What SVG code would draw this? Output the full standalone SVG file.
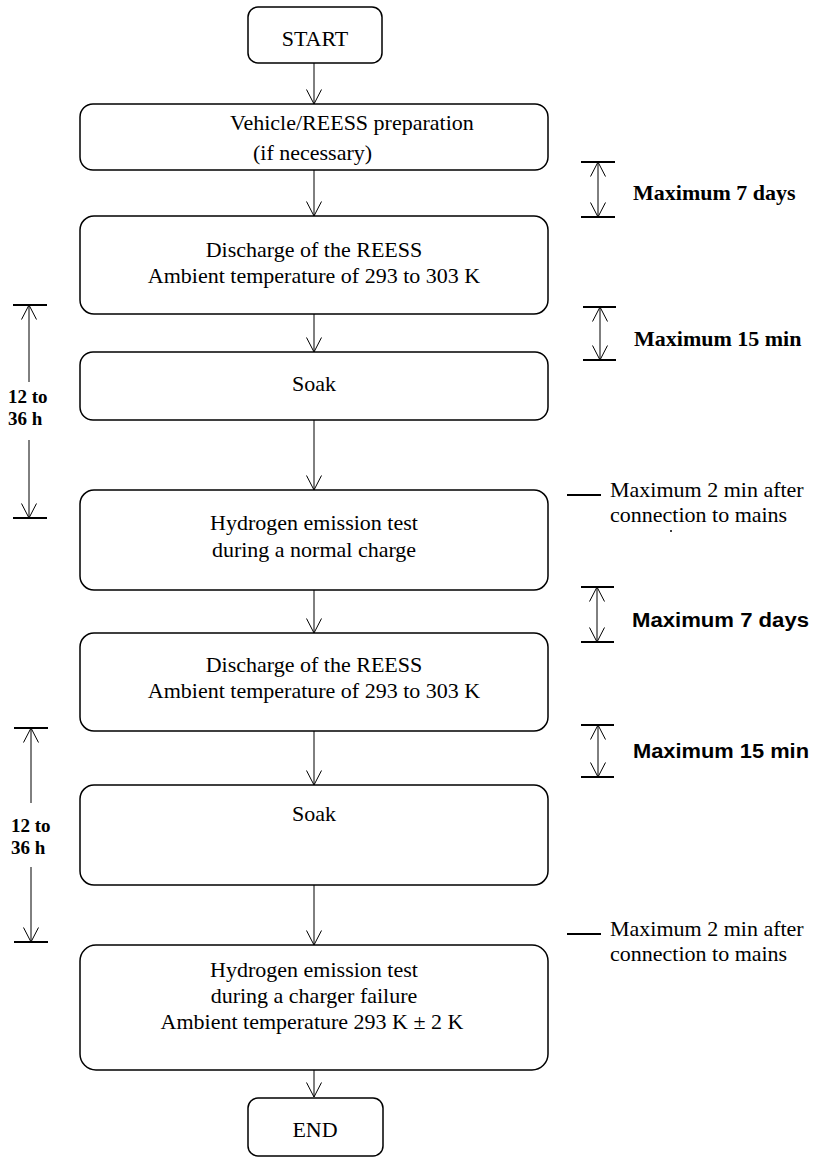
<svg xmlns="http://www.w3.org/2000/svg" width="817" height="1159" viewBox="0 0 817 1159">
<style>
.box{fill:#fff;stroke:#000;stroke-width:1.5}
.t{font-family:"Liberation Serif","Times New Roman",serif;font-size:22px;fill:#000}
.c{text-anchor:middle}
.b{font-family:"Liberation Serif","Times New Roman",serif;font-size:22px;font-weight:bold;fill:#000}
.s{font-family:"Liberation Sans",Arial,sans-serif;font-size:20px;font-weight:bold;fill:#000}
.h{font-family:"Liberation Serif","Times New Roman",serif;font-size:19px;font-weight:bold;fill:#000}
.ln{stroke:#000;stroke-width:1;fill:none}
.tk{stroke:#000;stroke-width:2}
</style>
<defs>
<marker id="ah" viewBox="0 0 16 16" refX="15" refY="8" markerWidth="16" markerHeight="16" markerUnits="userSpaceOnUse" orient="auto-start-reverse">
<path d="M0.5,0.5 L15,8 L0.5,15.5" fill="none" stroke="#000" stroke-width="1"/>
</marker>
</defs>
<rect width="817" height="1159" fill="#fff"/>

<g id="connectors">
<line class="ln" x1="314" y1="63" x2="314" y2="104" marker-end="url(#ah)"/>
<line class="ln" x1="314" y1="166" x2="314" y2="216" marker-end="url(#ah)"/>
<line class="ln" x1="314" y1="310" x2="314" y2="352" marker-end="url(#ah)"/>
<line class="ln" x1="314" y1="416" x2="314" y2="490" marker-end="url(#ah)"/>
<line class="ln" x1="314" y1="585" x2="314" y2="633" marker-end="url(#ah)"/>
<line class="ln" x1="314" y1="727" x2="314" y2="785" marker-end="url(#ah)"/>
<line class="ln" x1="314" y1="881" x2="314" y2="945" marker-end="url(#ah)"/>
<line class="ln" x1="314" y1="1066" x2="314" y2="1097" marker-end="url(#ah)"/>
</g>

<g id="start">
<rect class="box" x="248" y="7" width="134" height="56" rx="10"/>
<text class="t c" x="315" y="46">START</text>
</g>

<g id="prep">
<rect class="box" x="80" y="104" width="468" height="66" rx="13"/>
<text class="t" x="230" y="130">Vehicle/REESS preparation</text>
<text class="t" x="253" y="160">(if necessary)</text>
</g>

<g id="discharge1">
<rect class="box" x="80" y="216" width="468" height="98" rx="14"/>
<text class="t c" x="314" y="257">Discharge of the REESS</text>
<text class="t c" x="314" y="283">Ambient temperature of 293 to 303 K</text>
</g>

<g id="soak1">
<rect class="box" x="80" y="352" width="468" height="68" rx="13"/>
<text class="t c" x="314" y="391">Soak</text>
</g>

<g id="hydrogen1">
<rect class="box" x="80" y="490" width="468" height="100" rx="14"/>
<text class="t c" x="314" y="530">Hydrogen emission test</text>
<text class="t c" x="314" y="557">during a normal charge</text>
</g>

<g id="discharge2">
<rect class="box" x="80" y="633" width="468" height="98" rx="14"/>
<text class="t c" x="314" y="672">Discharge of the REESS</text>
<text class="t c" x="314" y="698">Ambient temperature of 293 to 303 K</text>
</g>

<g id="soak2">
<rect class="box" x="80" y="785" width="468" height="100" rx="14"/>
<text class="t c" x="314" y="821">Soak</text>
</g>

<g id="hydrogen2">
<rect class="box" x="80" y="945" width="468" height="125" rx="16"/>
<text class="t c" x="314" y="977">Hydrogen emission test</text>
<text class="t c" x="314" y="1003">during a charger failure</text>
<text class="t c" x="312" y="1029">Ambient temperature 293 K ± 2 K</text>
</g>

<g id="end">
<rect class="box" x="248" y="1098" width="135" height="58" rx="10"/>
<text class="t c" x="315" y="1137">END</text>
</g>

<g id="bracket-7days-1">
<line class="tk" x1="581" y1="162" x2="615" y2="162"/>
<line class="tk" x1="581" y1="217" x2="615" y2="217"/>
<line class="ln" x1="598" y1="162" x2="598" y2="217" marker-start="url(#ah)" marker-end="url(#ah)"/>
<text class="b" x="633" y="200">Maximum 7 days</text>
</g>

<g id="bracket-15min-1">
<line class="tk" x1="583" y1="307" x2="616" y2="307"/>
<line class="tk" x1="583" y1="360" x2="616" y2="360"/>
<line class="ln" x1="600" y1="307" x2="600" y2="360" marker-start="url(#ah)" marker-end="url(#ah)"/>
<text class="b" x="634" y="346">Maximum 15 min</text>
</g>

<g id="bracket-12-36h-1">
<line class="tk" x1="13" y1="305" x2="47" y2="305"/>
<line class="tk" x1="13" y1="518" x2="47" y2="518"/>
<line class="ln" x1="29" y1="382" x2="29" y2="305" marker-end="url(#ah)"/>
<line class="ln" x1="29" y1="440" x2="29" y2="518" marker-end="url(#ah)"/>
<text class="h" x="8" y="403">12 to</text>
<text class="h" x="8" y="425">36 h</text>
</g>

<g id="note-2min-1">
<line class="tk" x1="567" y1="495" x2="601" y2="495"/>
<text class="t" x="610" y="497">Maximum 2 min after</text>
<text class="t" x="610" y="522">connection to mains</text>
<circle cx="671" cy="531" r="1" fill="#000"/>
</g>

<g id="bracket-7days-2">
<line class="tk" x1="581" y1="587" x2="614" y2="587"/>
<line class="tk" x1="581" y1="642" x2="614" y2="642"/>
<line class="ln" x1="597" y1="587" x2="597" y2="642" marker-start="url(#ah)" marker-end="url(#ah)"/>
<text class="s" x="632" y="627" textLength="177" lengthAdjust="spacingAndGlyphs">Maximum 7 days</text>
</g>

<g id="bracket-15min-2">
<line class="tk" x1="581" y1="725" x2="614" y2="725"/>
<line class="tk" x1="581" y1="777" x2="614" y2="777"/>
<line class="ln" x1="598" y1="725" x2="598" y2="777" marker-start="url(#ah)" marker-end="url(#ah)"/>
<text class="s" x="633" y="758" textLength="176" lengthAdjust="spacingAndGlyphs">Maximum 15 min</text>
</g>

<g id="bracket-12-36h-2">
<line class="tk" x1="14" y1="728" x2="48" y2="728"/>
<line class="tk" x1="14" y1="942" x2="48" y2="942"/>
<line class="ln" x1="31" y1="803" x2="31" y2="728" marker-end="url(#ah)"/>
<line class="ln" x1="31" y1="867" x2="31" y2="942" marker-end="url(#ah)"/>
<text class="h" x="11" y="832">12 to</text>
<text class="h" x="11" y="854">36 h</text>
</g>

<g id="note-2min-2">
<line class="tk" x1="567" y1="934" x2="601" y2="934"/>
<text class="t" x="610" y="936">Maximum 2 min after</text>
<text class="t" x="610" y="961">connection to mains</text>
</g>
</svg>
